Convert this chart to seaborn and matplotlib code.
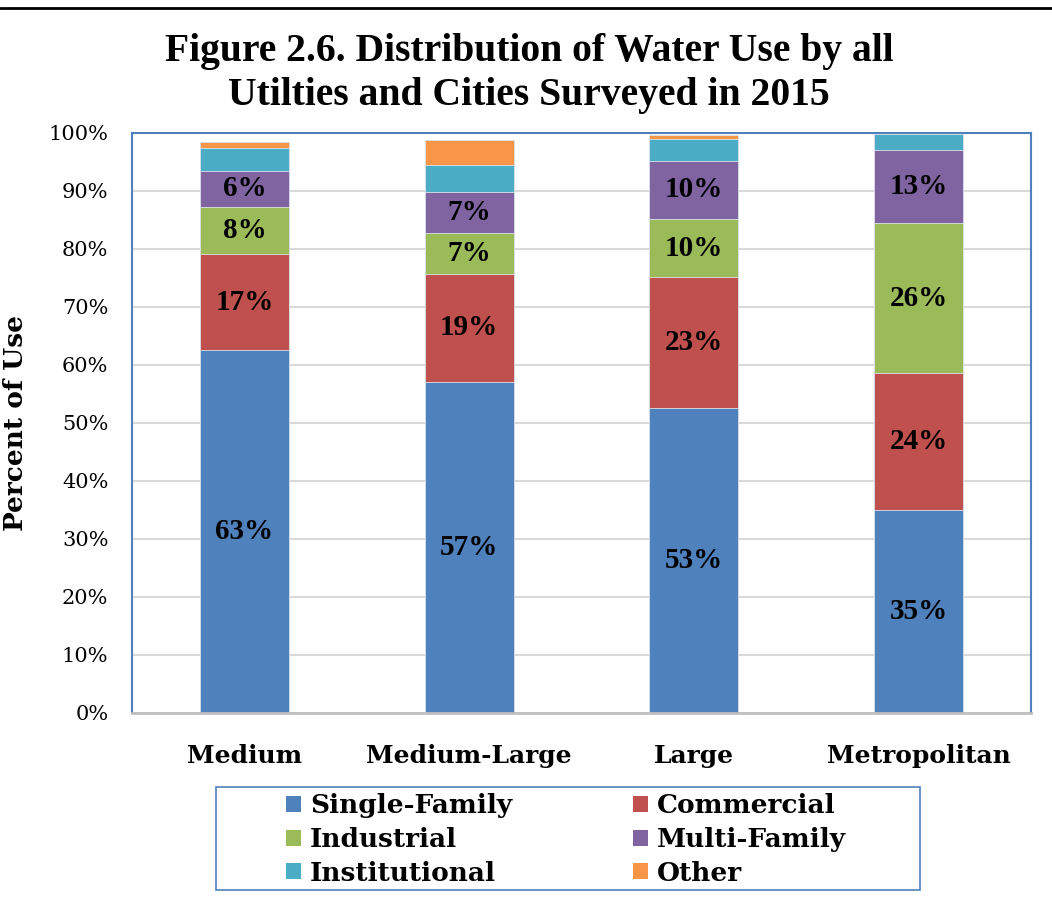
import math
import matplotlib
matplotlib.use("Agg")
import matplotlib.pyplot as plt
import seaborn as sns
import pandas as pd
from matplotlib.patches import Patch, Rectangle
from matplotlib.lines import Line2D
from matplotlib.ticker import FuncFormatter

categories = ["Medium", "Medium-Large", "Large", "Metropolitan"]
series_names = ["Single-Family", "Commercial", "Industrial", "Multi-Family", "Institutional", "Other"]
single_family = [62.6, 57.1, 52.6, 35.0]
commercial = [16.5, 18.6, 22.5, 23.7]
industrial = [8.1, 7.0, 10.1, 25.7]
multi_family = [6.3, 7.2, 10.0, 12.6]
institutional = [4.0, 4.5, 3.8, 2.9]
other = [0.95, 4.4, 0.6, 0.0]
labeled_series = ["Single-Family", "Commercial", "Industrial", "Multi-Family"]
colors = ["#4F81BD", "#C0504D", "#9BBB59", "#8064A2", "#4BACC6", "#F79646"]

values = [single_family, commercial, industrial, multi_family, institutional, other]

sns.set_theme(style="white")
SERIF = ["DejaVu Serif"]
TIMES = ["Liberation Serif", "DejaVu Serif"]
plt.rcParams["font.family"] = SERIF
for key in ["text.color", "axes.labelcolor", "xtick.color", "ytick.color"]:
    plt.rcParams[key] = "black"

W, H = 1052, 901
fig = plt.figure(figsize=(W / 100, H / 100), dpi=100)
ax = fig.add_axes([132 / W, 1 - 713 / H, (1031 - 132) / W, (713 - 133) / H])

# cumulative tops
cums = []
run = [0.0] * len(categories)
for vals in values:
    run = [r + v for r, v in zip(run, vals)]
    cums.append(list(run))

rows = []
for name, cum in zip(series_names, cums):
    for c, t in zip(categories, cum):
        rows.append({"category": c, "series": name, "top": t})
df = pd.DataFrame(rows)

ax.set_axisbelow(True)
ax.yaxis.grid(True, color="#D9D9D9", linewidth=1.5)
for i in range(len(series_names) - 1, -1, -1):
    sub = df[df["series"] == series_names[i]]
    sns.barplot(data=sub, x="category", y="top", order=categories, color=colors[i],
                saturation=1, width=0.395, ax=ax, linewidth=0.6, edgecolor="#DDE3EC")

# data labels
for i, name in enumerate(series_names):
    if name not in labeled_series:
        continue
    for j, v in enumerate(values[i]):
        bottom = cums[i][j] - v
        ax.text(j, bottom + v / 2, f"{math.floor(v + 0.5)}%", ha="center", va="center",
                fontsize=21, fontweight="bold", color="black", family=TIMES)

ax.set_ylim(0, 100)
ax.set_xlim(-0.5, 3.5)
ax.set_yticks(range(0, 101, 10))
ax.yaxis.set_major_formatter(FuncFormatter(lambda v, p: f"{int(v)}%"))
ax.tick_params(axis="y", length=0, labelsize=15, pad=17)
ax.tick_params(axis="x", length=0, labelsize=18, pad=22)
for lbl in ax.get_xticklabels():
    lbl.set_fontweight("bold")
ax.set_xlabel("")
ax.set_ylabel("Percent of Use", fontsize=19, fontweight="bold")
ax.yaxis.set_label_coords((28 - 132) / (1031 - 132), 0.5)

for s in ["left", "top", "right"]:
    ax.spines[s].set_color("#4F81BD")
    ax.spines[s].set_linewidth(1.5)
ax.spines["bottom"].set_color("#BFBFBF")
ax.spines["bottom"].set_linewidth(2)

fig.text(529 / W, 1 - 51 / H, "Figure 2.6. Distribution of Water Use by all", ha="center", va="center",
         fontsize=28.5, fontweight="bold", family=TIMES)
fig.text(529 / W, 1 - 95 / H, "Utilties and Cities Surveyed in 2015", ha="center", va="center",
         fontsize=28.5, fontweight="bold", family=TIMES)

fig.add_artist(Line2D([0, 1], [1 - 8 / H, 1 - 8 / H], color="black", linewidth=2,
                      transform=fig.transFigure))

# legend frame
fig.add_artist(Rectangle((216 / W, 1 - 890 / H), (920 - 216) / W, (890 - 787) / H,
                         transform=fig.transFigure, facecolor="white", edgecolor="#4F81BD",
                         linewidth=1.2, zorder=0))

# legend (row-major ordering in two columns)
handles = [Patch(facecolor=c, edgecolor="none") for c in colors]
order = [0, 2, 4, 1, 3, 5]
leg = fig.legend([handles[k] for k in order], [series_names[k] for k in order],
                 ncol=2, loc="center left", bbox_to_anchor=(286 / W, 1 - 839.5 / H),
                 frameon=False,
                 prop={"family": SERIF, "weight": "bold", "size": 19},
                 handlelength=0.55, handleheight=0.55, handletextpad=0.35,
                 columnspacing=4.6, labelspacing=0.33, borderpad=0.0, borderaxespad=0.0)

fig.savefig("out.png", dpi=100)
